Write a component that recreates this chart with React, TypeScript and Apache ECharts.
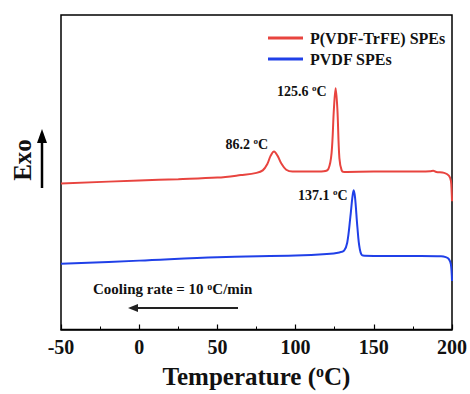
import React, { useEffect, useRef } from "react";
import * as echarts from "echarts";

// DSC cooling scans: temperature (°C) and heat flow (arbitrary units, exo up)
const copolymerTemp = [-50, 0, 25, 50, 65, 75, 79, 82, 84, 86.2, 88.5, 91, 94, 98, 110, 118, 121, 123, 124.5, 125.6, 126.7, 128, 129.5, 131, 150, 180, 186, 188, 190, 195, 198, 199.3, 199.8, 200];
const copolymerFlow = [46.4, 47.4, 47.8, 48.3, 49.1, 49.8, 50.6, 52.7, 55.2, 56.6, 55.2, 52.7, 50.8, 50.2, 50.2, 50.3, 51.1, 56.1, 70.2, 76.7, 70.2, 54.5, 50.5, 50.1, 50.2, 50.2, 50.3, 50.5, 50.1, 49.8, 48.9, 47.3, 43.6, 40.8];

const pvdfTemp = [-50, 0, 50, 100, 120, 128, 131, 133, 135, 136.3, 137.1, 138, 139.5, 141, 143, 150, 180, 193, 196, 198, 199.3, 200];
const pvdfFlow = [20.9, 21.9, 23.0, 23.5, 24.0, 24.5, 25.1, 27.6, 35.7, 42.0, 44.3, 42.0, 32.6, 25.7, 23.5, 23.4, 23.4, 23.3, 23.0, 22.4, 20.7, 15.4];

const seriesNames = ["P(VDF-TrFE) SPEs", "PVDF SPEs"];
const seriesColors = ["#e8443f", "#2040e8"];

// labelled peaks: [temperature, heat flow]
const copolymerPeaks = [
  [86.2, 56.6],
  [125.6, 76.7],
];
const pvdfPeaks = [[137.1, 44.3]];

const FONT = "Liberation Serif";

const zip = (xs: number[], ys: number[]) => xs.map((x, i) => [x, ys[i]]);

const peakLabel = (offset: number[]) => ({
  show: true,
  position: "left",
  distance: 6,
  offset,
  formatter: (p: any) => `{a|${p.data.coord[0].toFixed(1)} }{s|o}{a|C}`,
  rich: {
    a: { fontFamily: FONT, fontWeight: "bold", fontSize: 14, color: "#111" },
    s: { fontFamily: FONT, fontWeight: "bold", fontSize: 9, color: "#111", verticalAlign: "top", padding: [0, 0, 6, 0] },
  },
});

export default function App() {
  const ref = useRef<HTMLDivElement>(null);

  useEffect(() => {
    if (!ref.current) return;
    const chart = echarts.init(ref.current, null, { renderer: "svg" });

    chart.setOption({
      animation: false,
      backgroundColor: "#ffffff",
      grid: { left: 61, right: 17, top: 15, bottom: 60, show: true, borderColor: "#000", borderWidth: 1.5 },
      legend: {
        data: seriesNames,
        orient: "vertical",
        left: 263,
        top: 25,
        icon: "rect",
        itemWidth: 35,
        itemHeight: 3,
        itemGap: 5,
        textStyle: { fontFamily: FONT, fontWeight: "bold", fontSize: 16, color: "#111", padding: [0, 0, 0, 2] },
      },
      xAxis: {
        type: "value",
        min: -50,
        max: 200,
        interval: 50,
        axisLine: { onZero: false, lineStyle: { color: "#000", width: 1.5 } },
        axisTick: { inside: true, length: 5, lineStyle: { color: "#000", width: 1.2 } },
        minorTick: { show: true, splitNumber: 2, length: 3, lineStyle: { color: "#000", width: 1 } },
        splitLine: { show: false },
        axisLabel: { fontFamily: FONT, fontWeight: "bold", fontSize: 20, color: "#111", margin: 7 },
        name: "Temperature ({s|o}C)",
        nameLocation: "middle",
        nameGap: 34,
        nameTextStyle: {
          fontFamily: FONT,
          fontWeight: "bold",
          fontSize: 25,
          color: "#111",
          rich: {
            s: { fontFamily: FONT, fontWeight: "bold", fontSize: 16, color: "#111", verticalAlign: "top", padding: [0, 0, 10, 0] },
          },
        },
      },
      yAxis: {
        type: "value",
        min: 0,
        max: 100,
        axisLine: { show: false },
        axisTick: { show: false },
        axisLabel: { show: false },
        splitLine: { show: false },
      },
      series: [
        {
          name: seriesNames[0],
          type: "line",
          data: zip(copolymerTemp, copolymerFlow),
          smooth: 0.35,
          showSymbol: false,
          lineStyle: { color: seriesColors[0], width: 2 },
          itemStyle: { color: seriesColors[0] },
          markPoint: {
            symbol: "circle",
            symbolSize: 0,
            data: [
              { coord: copolymerPeaks[0], label: peakLabel([0, -7]) },
              { coord: copolymerPeaks[1], label: peakLabel([-3, 3]) },
            ],
          },
        },
        {
          name: seriesNames[1],
          type: "line",
          data: zip(pvdfTemp, pvdfFlow),
          smooth: 0.35,
          showSymbol: false,
          lineStyle: { color: seriesColors[1], width: 2 },
          itemStyle: { color: seriesColors[1] },
          markPoint: {
            symbol: "circle",
            symbolSize: 0,
            data: [{ coord: pvdfPeaks[0], label: peakLabel([0, 5]) }],
          },
        },
      ],
      graphic: [
        {
          type: "text",
          x: 22,
          y: 160,
          rotation: Math.PI / 2,
          style: {
            text: "Exo",
            fontFamily: FONT,
            fontWeight: "bold",
            fontSize: 25,
            fill: "#111",
            align: "center",
            verticalAlign: "middle",
          },
        },
        { type: "line", shape: { x1: 42, y1: 188, x2: 42, y2: 140 }, style: { stroke: "#000", lineWidth: 2.5 } },
        { type: "polygon", shape: { points: [[42, 129], [37, 143], [47, 143]] }, style: { fill: "#000" } },
        {
          type: "text",
          x: 93,
          y: 289,
          style: {
            text: "{a|Cooling rate = 10 }{s|o}{a|C/min}",
            verticalAlign: "middle",
            rich: {
              a: { fontFamily: FONT, fontWeight: "bold", fontSize: 15, fill: "#111" },
              s: { fontFamily: FONT, fontWeight: "bold", fontSize: 10, fill: "#111", verticalAlign: "top", padding: [0, 0, 6, 0] },
            },
          },
        },
        { type: "line", shape: { x1: 238, y1: 308, x2: 136, y2: 308 }, style: { stroke: "#222", lineWidth: 2 } },
        { type: "polygon", shape: { points: [[128, 308], [138, 304], [138, 312]] }, style: { fill: "#222" } },
      ],
    });

    return () => chart.dispose();
  }, []);

  return <div ref={ref} style={{ position: "fixed", left: 0, top: 0, width: 470, height: 394 }} />;
}
